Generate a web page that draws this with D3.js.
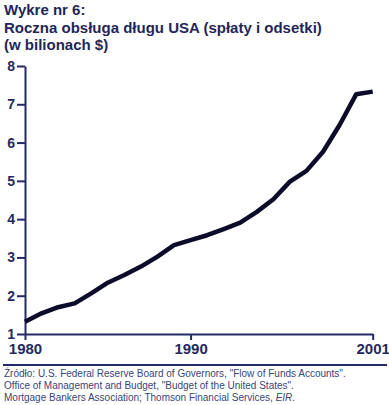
<!DOCTYPE html>
<html>
<head>
<meta charset="utf-8">
<script src="https://cdn.jsdelivr.net/npm/d3@7"></script>
<style>
  body { margin: 0; background: #fff; }
  svg { display: block; font-family: "Liberation Sans", Arial, sans-serif; }
</style>
</head>
<body>
<svg id="chart" width="389" height="405"></svg>
<script>
var years = [1980, 1981, 1982, 1983, 1984, 1985, 1986, 1987, 1988, 1989, 1990,
             1991, 1992, 1993, 1994, 1995, 1996, 1997, 1998, 1999, 2000, 2001];
var debtService = [1.32, 1.54, 1.70, 1.80, 2.06, 2.34, 2.54, 2.76, 3.02, 3.32, 3.45,
                   3.58, 3.74, 3.91, 4.19, 4.52, 4.98, 5.26, 5.76, 6.46, 7.26, 7.33];
var yTicks = [1, 2, 3, 4, 5, 6, 7, 8];
var xTicks = [1980, 1990, 2001];
var titleLines = ["Wykre nr 6:", "Roczna obsługa długu USA (spłaty i odsetki)", "(w bilionach $)"];

var navy = "#252a66";
var svg = d3.select("#chart");

// title
svg.selectAll("text.title")
    .data(titleLines)
    .enter()
    .append("text")
    .attr("class", "title")
    .attr("x", 4)
    .attr("y", (d, i) => 15 + i * 17.5)
    .attr("font-size", "15px")
    .attr("font-weight", "bold")
    .attr("fill", "#1f2658")
    .text(d => d);

var xScale = d3.scaleLinear().domain([1980, 2001]).range([25, 372.7]);
var yScale = d3.scaleLinear().domain([1, 8]).range([334, 66]);

// y axis
var yAxis = svg.append("g")
    .attr("transform", "translate(25,0)")
    .call(d3.axisLeft(yScale).tickValues(yTicks).tickFormat(d3.format("d"))
        .tickSize(8).tickSizeOuter(0).tickPadding(2));
yAxis.select(".domain").attr("stroke", navy).attr("stroke-width", 2);
yAxis.selectAll(".tick line").attr("stroke", navy).attr("stroke-width", 2);
yAxis.selectAll(".tick text")
    .attr("font-size", "14px")
    .attr("font-weight", "bold")
    .attr("font-family", "Liberation Sans, Arial, sans-serif")
    .attr("fill", "#252a5e");

// x axis
var xAxis = svg.append("g")
    .attr("transform", "translate(0,334)")
    .call(d3.axisBottom(xScale).tickValues(xTicks).tickFormat(d3.format("d"))
        .tickSize(6).tickSizeOuter(0).tickPadding(3));
xAxis.select(".domain").attr("stroke", navy).attr("stroke-width", 2);
xAxis.selectAll(".tick line").attr("stroke", navy).attr("stroke-width", 2);
xAxis.selectAll(".tick text")
    .attr("font-size", "15px")
    .attr("font-weight", "bold")
    .attr("font-family", "Liberation Sans, Arial, sans-serif")
    .attr("fill", "#252a5e");

// data line
var line = d3.line()
    .x((d, i) => xScale(years[i]))
    .y(d => yScale(d));

svg.append("path")
    .datum(debtService)
    .attr("d", line)
    .attr("fill", "none")
    .attr("stroke", "#0c0c2a")
    .attr("stroke-width", 4.5)
    .attr("stroke-linejoin", "round")
    .attr("stroke-linecap", "butt");

// separator
svg.append("line")
    .attr("x1", 3).attr("x2", 387)
    .attr("y1", 365).attr("y2", 365)
    .attr("stroke", navy)
    .attr("stroke-width", 2);

// source notes
var src = svg.append("text")
    .attr("x", 4)
    .attr("font-size", "10px")
    .attr("fill", "#3b4478");
src.append("tspan").attr("x", 4).attr("y", 377)
    .text("Źródło: U.S. Federal Reserve Board of Governors, \"Flow of Funds Accounts\".");
src.append("tspan").attr("x", 4).attr("y", 389)
    .text("Office of Management and Budget, \"Budget of the United States\".");
src.append("tspan").attr("x", 4).attr("y", 401)
    .text("Mortgage Bankers Association; Thomson Financial Services, ");
src.append("tspan").attr("font-style", "italic").text("EIR");
src.append("tspan").text(".");
</script>
</body>
</html>
